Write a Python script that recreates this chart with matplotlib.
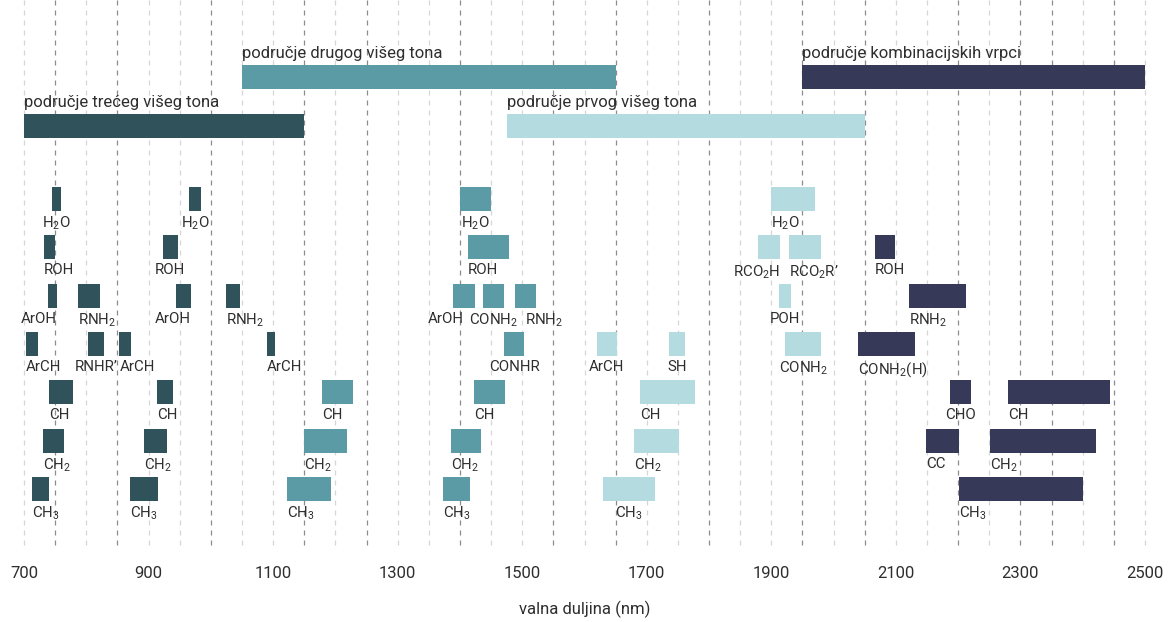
import numpy as np
import matplotlib
matplotlib.use('Agg')
import matplotlib.pyplot as plt

plt.rcParams['font.family'] = ['Roboto', 'DejaVu Sans']
plt.rcParams['mathtext.fontset'] = 'custom'
plt.rcParams['mathtext.rm'] = 'Roboto'
plt.rcParams['mathtext.it'] = 'Roboto:italic'
plt.rcParams['mathtext.bf'] = 'Roboto:bold'

# overtone regions: 3 = treći viši ton, 2 = drugi, 1 = prvi, 0 = kombinacijske vrpce
region_colors = {3: '#30525a', 2: '#5a9ba5', 1: '#b4dce0', 0: '#363a58'}

# big region bars (start nm, end nm, label, region)
regions_upper = [(1050, 1650, 'područje drugog višeg tona', 2),
                 (1950, 2500, 'područje kombinacijskih vrpci', 0)]
regions_lower = [(700, 1150, 'područje trećeg višeg tona', 3),
                 (1475, 2050, 'područje prvog višeg tona', 1)]

# band rows (start nm, end nm, label, region)
row_h2o = [(745, 760, 'H$_2$O', 3), (965, 985, 'H$_2$O', 3),
           (1400, 1450, 'H$_2$O', 2), (1900, 1970, 'H$_2$O', 1)]
row_roh = [(732, 750, 'ROH', 3), (923, 947, 'ROH', 3), (1413, 1479, 'ROH', 2),
           (1878, 1914, 'RCO$_2$H', 1), (1928, 1980, 'RCO$_2$R’', 1),
           (2066, 2098, 'ROH', 0)]
row_aroh = [(738, 753, 'ArOH', 3), (787, 822, 'RNH$_2$', 3), (944, 968, 'ArOH', 3),
            (1024, 1047, 'RNH$_2$', 3), (1389, 1424, 'ArOH', 2),
            (1437, 1471, 'CONH$_2$', 2), (1488, 1522, 'RNH$_2$', 2),
            (1912, 1932, 'POH', 1), (2121, 2212, 'RNH$_2$', 0)]
row_arch = [(703, 722, 'ArCH', 3), (803, 828, 'RNHR’', 3), (853, 872, 'ArCH', 3),
            (1090, 1103, 'ArCH', 3), (1471, 1503, 'CONHR', 2), (1620, 1652, 'ArCH', 1),
            (1736, 1761, 'SH', 1), (1922, 1980, 'CONH$_2$', 1),
            (2039, 2131, 'CONH$_2$(H)', 0)]
row_ch = [(740, 779, 'CH', 3), (913, 939, 'CH', 3), (1179, 1229, 'CH', 2),
          (1422, 1472, 'CH', 2), (1689, 1778, 'CH', 1), (2187, 2221, 'CHO', 0),
          (2280, 2444, 'CH', 0)]
row_ch2 = [(731, 764, 'CH$_2$', 3), (893, 930, 'CH$_2$', 3), (1150, 1219, 'CH$_2$', 2),
           (1386, 1434, 'CH$_2$', 2), (1680, 1752, 'CH$_2$', 1), (2148, 2201, 'CC', 0),
           (2251, 2421, 'CH$_2$', 0)]
row_ch3 = [(713, 740, 'CH$_3$', 3), (870, 915, 'CH$_3$', 3), (1122, 1193, 'CH$_3$', 2),
           (1373, 1416, 'CH$_3$', 2), (1630, 1713, 'CH$_3$', 1), (2201, 2400, 'CH$_3$', 0)]

rows = [row_h2o, row_roh, row_aroh, row_arch, row_ch, row_ch2, row_ch3]

# label anchor under each bar:
# l = left at start, c = centre, r = right at end, L = left at centre, R = right at centre
rows_ha = ['cccl', 'lclrll', 'rlrlRcLcl', 'lcllccccl', 'lllllcl', 'lllllll', 'llllcl']

tick_values = [700, 900, 1100, 1300, 1500, 1700, 1900, 2100, 2300, 2500]
grid_dark = [750, 850, 1000, 1150, 1250, 1400, 1550, 1650, 1800, 1950,
             2050, 2200, 2300, 2350, 2450]

text_color = '#2e2e2e'
W, H = 1168, 622

fig = plt.figure(figsize=(W / 100, H / 100), dpi=100)
ax = fig.add_axes([24 / W, 74 / H, 1121 / W, 548 / H])
ax.set_xlim(700, 2500)
ax.set_ylim(548, 0)
for s in ax.spines.values():
    s.set_visible(False)
ax.set_yticks([])

# dashed gridlines every 50 nm
for g in np.arange(700, 2501, 50):
    c = '#8c8c8c' if g in grid_dark else '#d6d6d6'
    ax.plot([g, g], [0, 548], color=c, lw=0.9, dashes=(4, 4), zorder=0, clip_on=False)


def draw_region(items, y_top, h):
    for start, end, label, reg in items:
        ax.barh(y_top + h / 2, end - start, left=start, height=h,
                color=region_colors[reg], zorder=2)
        ax.text(start, y_top - 4, label, ha='left', va='bottom',
                fontsize=12, color=text_color)


draw_region(regions_upper, 65, 24)
draw_region(regions_lower, 114, 24)

for i, row in enumerate(rows):
    y_top = 187 + i * 48.3
    for (start, end, label, reg), a in zip(row, rows_ha[i]):
        ax.barh(y_top + 12, end - start, left=start, height=24,
                color=region_colors[reg], zorder=2)
        mid = (start + end) / 2
        if a == 'l':
            x, ha = start, 'left'
        elif a == 'c':
            x, ha = mid, 'center'
        elif a == 'r':
            x, ha = end, 'right'
        elif a == 'L':
            x, ha = mid, 'left'
        else:
            x, ha = mid, 'right'
        ax.text(x, y_top + 28, label, ha=ha, va='top',
                fontsize=10.8, color=text_color, zorder=3)

ax.set_xticks(tick_values)
ax.set_xticklabels([str(t) for t in tick_values], fontsize=12, color=text_color)
ax.tick_params(axis='x', length=0, pad=13)
ax.set_xlabel('valna duljina (nm)', fontsize=12, color=text_color, labelpad=14)

fig.savefig('out.png', dpi=100, facecolor='white')
